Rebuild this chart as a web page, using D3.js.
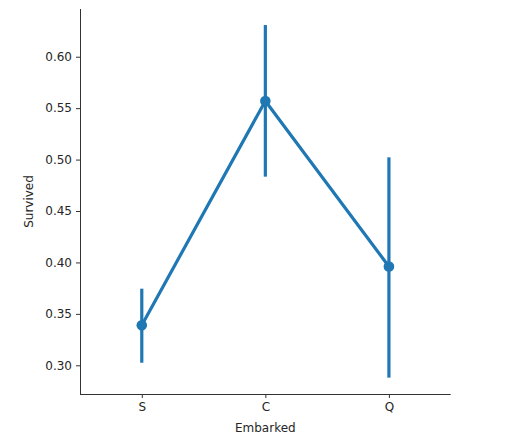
<!DOCTYPE html>
<html>
<head>
<meta charset="utf-8">
<script src="https://cdn.jsdelivr.net/npm/d3@7"></script>
<style>
body { margin: 0; background: #fff; }
svg { display: block; }
text { font-family: "DejaVu Sans", sans-serif; }
</style>
</head>
<body>
<svg id="chart" width="527" height="448"></svg>
<script>
const categories = ["S", "C", "Q"];
const means = [0.339, 0.557, 0.396];
const ciLow = [0.3025, 0.4834, 0.288];
const ciHigh = [0.3745, 0.6308, 0.5022];
const yTicks = [0.30, 0.35, 0.40, 0.45, 0.50, 0.55, 0.60];

(function () {
const svg = d3.select("#chart");
const mLeft = 80, mRight = 450.7, mTop = 9, mBottom = 394;
const color = "#1f77b4";
const fs = "12px";

const x = d3.scalePoint().domain(categories).range([mLeft, mRight]).padding(0.5);
const y = d3.scaleLinear().domain([0.2721, 0.6464]).range([mBottom, mTop]);

// Axes
const yAxis = d3.axisLeft(y).tickValues(yTicks).tickFormat(d3.format(".2f")).tickSize(4).tickPadding(4);
const gy = svg.append("g").attr("transform", `translate(${mLeft},0)`).call(yAxis);
const xAxis = d3.axisBottom(x).tickSize(4).tickPadding(4);
const gx = svg.append("g").attr("transform", `translate(0,${mBottom})`).call(xAxis);

[gx, gy].forEach(g => {
  g.select(".domain").attr("stroke", "#333").attr("stroke-width", 1);
  g.selectAll(".tick line").attr("stroke", "#333").attr("stroke-width", 1);
  g.selectAll(".tick text").attr("fill", "#262626").style("font-size", fs).style("font-family", "DejaVu Sans, sans-serif");
});
gy.select(".domain").attr("d", `M0.5,${mBottom}V${mTop}`);
gx.select(".domain").attr("d", `M${mLeft},0.5H${mRight}`);

// Axis labels
svg.append("text").attr("x", (mLeft + mRight) / 2).attr("y", 431.5)
  .attr("text-anchor", "middle").attr("fill", "#262626").style("font-size", fs).text("Embarked");
svg.append("text").attr("transform", `translate(33,${(mTop + mBottom) / 2}) rotate(-90)`)
  .attr("text-anchor", "middle").attr("fill", "#262626").style("font-size", fs).text("Survived");

// Error bars
svg.append("g").selectAll("line").data(categories).join("line")
  .attr("x1", d => x(d)).attr("x2", d => x(d))
  .attr("y1", (d, i) => y(ciLow[i])).attr("y2", (d, i) => y(ciHigh[i]))
  .attr("stroke", color).attr("stroke-width", 3.2);

// Line
const line = d3.line().x(d => x(d.c)).y(d => y(d.v));
svg.append("path").datum(categories.map((c, i) => ({ c, v: means[i] })))
  .attr("d", line).attr("fill", "none").attr("stroke", color).attr("stroke-width", 3.2)
  .attr("stroke-linejoin", "round");

// Points
svg.append("g").selectAll("circle").data(categories).join("circle")
  .attr("cx", d => x(d)).attr("cy", (d, i) => y(means[i])).attr("r", 5.3)
  .attr("fill", color);
})();
</script>
</body>
</html>
